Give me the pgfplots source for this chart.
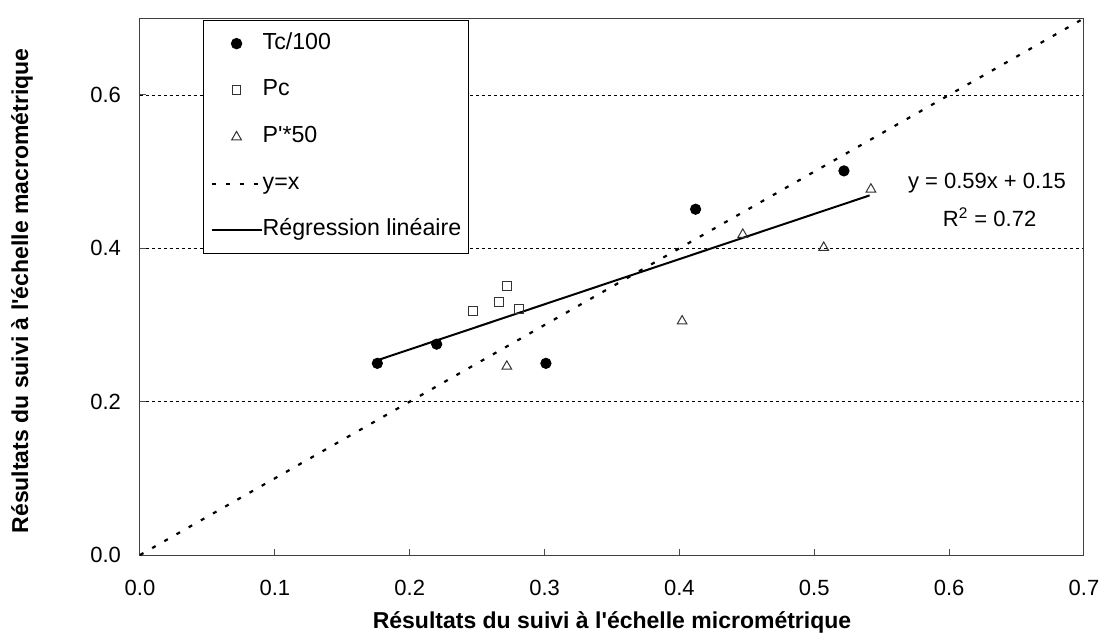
\documentclass[border=0pt]{standalone}
\usepackage{fontspec}
\setmainfont{Liberation Sans}
\usepackage{pgfplots}
\pgfplotsset{compat=1.18}
\begin{document}
\begin{tikzpicture}
\begin{axis}[
    scale only axis,
    width=472pt, height=268.35pt,
    xmin=0, xmax=0.7, ymin=0, ymax=0.7,
    xtick={0,0.1,0.2,0.3,0.4,0.5,0.6,0.7},
    ytick={0,0.2,0.4,0.6},
    tick pos=left, tick align=inside,
    major tick length=3pt,
    every tick/.style={black!70, line width=0.5pt},
    axis line style={black!75, line width=0.5pt},
    ymajorgrids,
    grid style={black, line width=0.4pt, dash pattern=on 1.5pt off 1.5pt},
    /pgf/number format/assume math mode=true,
    /pgf/number format/.cd, fixed, fixed zerofill, precision=1, /pgfplots/.cd,
    ticklabel style={font=\fontsize{11}{13}\selectfont},
    xticklabel style={yshift=-9pt},
    yticklabel style={xshift=-6pt},
    xlabel={\bfseries R\'esultats du suivi \`a l\textquotesingle\'echelle microm\'etrique},
    ylabel={\bfseries R\'esultats du suivi \`a l\textquotesingle\'echelle macrom\'etrique},
    label style={font=\fontsize{11.5}{13}\selectfont},
    xlabel style={at={(axis description cs:0.5,0)}, anchor=center, yshift=-33.5pt},
    ylabel style={at={(axis description cs:-0.125,0.492)}, anchor=center},
    legend cell align=left,
    legend image code/.code={\draw[mark repeat=2, mark phase=2, #1] plot coordinates {(0pt,0pt) (12.5pt,0pt) (25pt,0pt)};},
    legend style={at={(axis description cs:0.0667,0.9968)}, anchor=north west,
        draw=black, line width=0.5pt, font=\fontsize{11.6}{13}\selectfont,
        inner xsep=3.5pt, inner ysep=6.3pt, row sep=12.85pt,
        nodes={inner sep=0pt, text height=8pt, text depth=2.5pt},
        /tikz/every even column/.append style={column sep=2pt}},
]
% Tc/100
\addplot[only marks, mark=*, mark size=2.6pt, black] coordinates {
    (0.176,0.250) (0.220,0.275) (0.301,0.250) (0.412,0.451) (0.522,0.501)
};
\addlegendentry{Tc/100}
% Pc
\addplot[only marks, mark=square, mark size=2.2pt, black!80, mark options={fill=white, line width=0.5pt}] coordinates {
    (0.247,0.318) (0.266,0.330) (0.272,0.351) (0.281,0.321)
};
\addlegendentry{Pc}
% P'*50
\addplot[only marks, mark=triangle, mark size=2.8pt, black!80, mark options={fill=white, line width=0.5pt}] coordinates {
    (0.272,0.246) (0.402,0.305) (0.447,0.418) (0.507,0.401) (0.542,0.477)
};
\addlegendentry{P\textquotesingle*50}
% y = x
\addplot[black, line width=1.1pt, dash pattern=on 2pt off 5pt] coordinates {
    (0,0) (0.7,0.7)
};
\addlegendentry{y=x}
% regression
\addplot[black, line width=1pt] coordinates {
    (0.176,0.254) (0.541,0.469)
};
\addlegendentry{R\'egression lin\'eaire}
\node[font=\fontsize{11}{13}\selectfont] at (axis cs:0.628,0.485) {y = 0.59x + 0.15};
\node[font=\fontsize{11}{13}\selectfont] at (axis cs:0.630,0.441) {R\textsuperscript{2} = 0.72};
\end{axis}
\path (current axis.south west) ++(-70pt,-39pt) rectangle ++(554pt,316.5pt);
\end{tikzpicture}
\end{document}
